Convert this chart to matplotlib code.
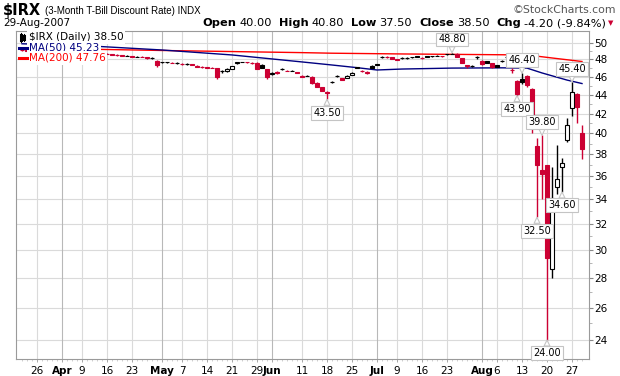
import numpy as np
import pandas as pd
import matplotlib
matplotlib.use("Agg")
import matplotlib.pyplot as plt
from matplotlib.patches import Rectangle
from matplotlib.lines import Line2D
from matplotlib.ticker import FixedLocator, FixedFormatter, NullFormatter

# ---------------- data ----------------
holidays = ["2007-04-06", "2007-05-28", "2007-07-04"]
dates = [d for d in pd.bdate_range("2007-03-21", "2007-08-29") if d.strftime("%Y-%m-%d") not in holidays]

opens = [49.15, 49.10, 49.05, 49.00, 49.05, 49.00, 48.95, 49.00, 48.95, 48.90,
         48.95, 48.90, 48.95, 48.95, 48.95, 48.95, 48.80, 48.70, 48.60, 48.55,
         48.50, 48.45, 48.40, 48.35, 48.35, 48.25, 48.15, 47.85, 47.65, 47.65,
         47.60, 47.55, 47.50, 47.45, 47.45, 47.25, 47.15, 47.10, 47.05, 46.95,
         46.60, 46.60, 46.90, 47.55, 47.70, 47.70, 47.60, 47.60, 47.35, 46.85,
         46.30, 46.55, 46.85, 46.70, 46.70, 46.50, 46.10, 46.10, 46.00, 45.30,
         44.80, 44.30, 45.40, 46.05, 45.80, 45.90, 46.20, 47.05, 46.70, 46.40,
         47.25, 47.45, 48.30, 48.35, 48.25, 48.05, 48.15, 48.20, 48.30, 48.40,
         48.20, 48.40, 48.40, 48.45, 48.40, 48.60, 48.70, 48.70, 48.15, 47.30,
         47.20, 48.25, 47.85, 47.80, 47.55, 47.30, 47.80, 48.30, 46.80, 45.50,
         45.70, 46.10, 44.60, 38.80, 36.50, 37.00, 28.60, 35.00, 36.80, 39.30,
         42.60, 44.10, 40.00]
highs = [49.25, 49.20, 49.15, 49.10, 49.10, 49.10, 49.05, 49.10, 49.05, 49.00,
         49.05, 49.00, 49.05, 49.00, 49.00, 49.00, 48.85, 48.75, 48.65, 48.60,
         48.55, 48.50, 48.45, 48.40, 48.40, 48.30, 48.25, 47.90, 47.70, 47.70,
         47.65, 47.70, 47.55, 47.55, 47.50, 47.30, 47.20, 47.15, 47.10, 47.00,
         46.75, 46.95, 47.25, 47.75, 47.75, 47.75, 47.65, 47.65, 47.45, 46.90,
         46.50, 46.60, 46.95, 46.75, 46.75, 46.55, 46.20, 46.20, 46.05, 45.35,
         44.85, 44.40, 45.50, 46.15, 45.85, 46.15, 46.50, 47.15, 46.75, 46.60,
         47.30, 47.50, 48.40, 48.40, 48.30, 48.10, 48.25, 48.25, 48.35, 48.45,
         48.25, 48.45, 48.45, 48.50, 48.45, 48.65, 48.80, 48.75, 48.20, 47.40,
         47.35, 48.45, 47.90, 47.85, 47.60, 47.35, 47.95, 48.45, 47.00, 45.60,
         46.40, 46.20, 44.70, 39.50, 39.80, 37.00, 36.80, 38.90, 37.60, 41.50,
         45.40, 44.20, 40.80]
lows = [49.05, 49.00, 48.95, 48.95, 48.95, 48.90, 48.90, 48.90, 48.85, 48.85,
        48.85, 48.85, 48.90, 48.90, 48.90, 48.90, 48.65, 48.60, 48.50, 48.45,
        48.40, 48.40, 48.30, 48.30, 48.25, 48.10, 48.10, 47.15, 47.60, 47.60,
        47.55, 47.45, 47.40, 47.40, 47.35, 47.10, 47.05, 47.00, 46.95, 45.70,
        46.45, 46.55, 46.85, 47.50, 47.65, 47.60, 47.50, 46.85, 47.00, 45.70,
        46.25, 46.35, 46.80, 46.60, 46.65, 46.40, 45.95, 46.05, 45.20, 44.80,
        44.40, 43.50, 45.30, 46.00, 45.60, 45.85, 46.15, 47.00, 46.55, 46.35,
        47.00, 47.30, 48.20, 48.20, 48.05, 47.90, 48.10, 48.10, 48.20, 48.30,
        48.10, 48.30, 48.35, 48.40, 48.35, 48.55, 48.60, 48.25, 47.55, 47.05,
        47.10, 48.00, 47.40, 47.55, 47.00, 47.10, 47.70, 48.20, 46.40, 43.90,
        45.20, 44.80, 40.00, 32.50, 34.00, 24.00, 28.00, 34.40, 34.60, 39.10,
        41.70, 41.00, 37.50]
closes = [49.10, 49.05, 49.00, 49.05, 49.00, 48.95, 49.00, 48.95, 48.90, 48.95,
          48.90, 48.95, 48.95, 48.95, 48.95, 48.95, 48.70, 48.65, 48.55, 48.50,
          48.45, 48.45, 48.35, 48.35, 48.30, 48.15, 48.15, 47.30, 47.65, 47.65,
          47.60, 47.60, 47.45, 47.45, 47.40, 47.15, 47.10, 47.05, 47.00, 45.95,
          46.60, 46.90, 47.20, 47.70, 47.72, 47.65, 47.55, 46.90, 47.05, 45.95,
          46.45, 46.40, 46.85, 46.65, 46.70, 46.45, 46.00, 46.10, 45.30, 44.90,
          44.45, 44.20, 45.40, 46.10, 45.65, 46.10, 46.45, 47.10, 46.60, 46.55,
          47.05, 47.35, 48.30, 48.25, 48.10, 47.95, 48.15, 48.15, 48.30, 48.35,
          48.15, 48.35, 48.40, 48.45, 48.40, 48.60, 48.65, 48.30, 47.60, 47.20,
          47.22, 48.30, 47.50, 47.60, 47.10, 47.15, 47.80, 48.35, 46.75, 44.10,
          45.35, 45.10, 41.50, 37.00, 36.20, 29.40, 34.10, 35.70, 37.20, 40.80,
          44.30, 42.70, 38.50]

ma50_idx = [0, 14, 28, 42, 56, 62, 67, 71, 76, 86, 96, 101, 104, 109, 112]
ma50_val = [49.90, 49.62, 49.14, 48.54, 47.71, 47.35, 47.04, 46.77, 46.88, 46.99,
            47.02, 46.99, 46.43, 45.62, 45.23]
ma200_idx = [0, 14, 28, 56, 62, 76, 101, 106, 112]
ma200_val = [49.35, 49.23, 49.08, 48.82, 48.75, 48.66, 48.54, 48.18, 47.76]

label_days = [86, 61, 100, 99, 104, 103, 105, 108, 110]
label_kind = ["high", "low", "high", "low", "high", "low", "low", "low", "high"]

yticks = [24, 26, 28, 30, 32, 34, 36, 38, 40, 42, 44, 46, 48, 50]

# ---------------- figure ----------------
W, H = 620, 376
fig = plt.figure(figsize=(W / 100, H / 100), dpi=100)
L, R, T, B = 16, 589, 31, 359
ax = fig.add_axes([L / W, 1 - B / H, (R - L) / W, (B - T) / H])
ax.set_yscale("log")
ax.set_ylim(22.9, 51.5)
n = len(closes)
ax.set_xlim(-1.2, n + 0.4)

RED = "#cc0033"
GRID = "#dadada"
MONTHGRID = "#b8b8b8"

# y axis
ax.yaxis.set_major_locator(FixedLocator(yticks))
ax.yaxis.set_major_formatter(FixedFormatter([str(v) for v in yticks]))
ax.yaxis.set_minor_locator(FixedLocator([v + 1 for v in yticks[:-1]]))
ax.yaxis.set_minor_formatter(NullFormatter())
ax.yaxis.tick_right()
ax.tick_params(axis="y", which="major", length=3, width=0.8, color="#888888",
               labelsize=7.5, pad=1, labelcolor="black")
ax.tick_params(axis="y", which="minor", length=2, width=0.6, color="#aaaaaa")
for v in yticks:
    ax.axhline(v, color=GRID, lw=0.8, zorder=0)

# x axis ticks
major_pos, major_lab, is_month = [], [], []
month_pos = [i for i in range(1, n) if dates[i].month != dates[i - 1].month]
for i in range(1, n):
    if i in month_pos:
        major_pos.append(i); major_lab.append(dates[i].strftime("%b")); is_month.append(True)
    elif dates[i].weekday() < dates[i - 1].weekday():
        if any(abs(i - m) <= 2 for m in month_pos):
            continue
        major_pos.append(i); major_lab.append(str(dates[i].day)); is_month.append(False)
ax.xaxis.set_major_locator(FixedLocator(major_pos))
ax.xaxis.set_major_formatter(FixedFormatter(major_lab))
ax.xaxis.set_minor_locator(FixedLocator(list(range(n))))
ax.tick_params(axis="x", which="major", length=2, width=0.6, color="#999999",
               labelsize=7.5, pad=3)
ax.tick_params(axis="x", which="minor", length=1.5, width=0.5, color="#bbbbbb")
for lab, m in zip(ax.get_xticklabels(), is_month):
    if m:
        lab.set_fontweight("bold")
for p, m in zip(major_pos, is_month):
    ax.axvline(p, color=MONTHGRID if m else GRID, lw=0.8, zorder=0)

for s in ax.spines.values():
    s.set_color("#9a9a9a"); s.set_linewidth(0.8)

# MA lines
ax.plot(ma200_idx, ma200_val, color="#ff0000", lw=1.0, zorder=2)
ax.plot(ma50_idx, ma50_val, color="#000080", lw=1.0, zorder=2)

# candles
bw = 0.72
for i in range(n):
    o, h, l, c = opens[i], highs[i], lows[i], closes[i]
    prev = closes[i - 1] if i > 0 else o
    col = RED if c < prev else "black"
    ax.vlines(i, l, h, color=col, lw=1.0, zorder=3)
    lo, hi = min(o, c), max(o, c)
    hollow = c > o
    ax.add_patch(Rectangle((i - bw / 2, lo), bw, hi - lo,
                           facecolor="white" if hollow else col,
                           edgecolor=col, lw=0.8, zorder=4))

# value labels
for d, k in zip(label_days, label_kind):
    val = highs[d] if k == "high" else lows[d]
    up = k == "high"
    ax.annotate(f"{val:.2f}", xy=(d, val), xytext=(0, 6 if up else -6),
                textcoords="offset points", ha="center",
                va="bottom" if up else "top", fontsize=7, zorder=10,
                bbox=dict(boxstyle="square,pad=0.2", fc="white", ec="#c4c4c4", lw=0.8),
                arrowprops=dict(arrowstyle="wedge,tail_width=0.6,shrink_factor=0.5",
                                fc="white", ec="#c4c4c4", lw=0.8, shrinkA=0, shrinkB=0))

# legend block (top-left inside axes)
def fx(px):
    return px / W

def fy(py):
    return 1 - py / H

leg = [(f"$IRX (Daily) {closes[-1]:.2f}", "black", 37),
       (f"MA(50) {ma50_val[-1]:.2f}", "#000080", 47.5),
       (f"MA(200) {ma200_val[-1]:.2f}", "#ff0000", 58)]
for txt, col, py in leg:
    fig.text(fx(29), fy(py), txt, color=col, fontsize=7.5, va="center", ha="left",
             zorder=20, bbox=dict(boxstyle="square,pad=0.15", fc="white", ec="none"))
for col, py in [("#000080", 47.5), ("#ff0000", 58)]:
    fig.add_artist(Line2D([fx(19), fx(27)], [fy(py), fy(py)], color=col, lw=2.2, zorder=21))
# small candle icon
for xx, y0, y1, yb0, yb1 in [(20.5, 33, 42, 35, 40), (24.5, 34, 41, 36, 39)]:
    fig.add_artist(Line2D([fx(xx), fx(xx)], [fy(y0), fy(y1)], color="black", lw=0.8, zorder=21))
    fig.add_artist(Line2D([fx(xx), fx(xx)], [fy(yb0), fy(yb1)], color="black", lw=2.2, zorder=21))

# header
fig.text(fx(3), fy(10), "$IRX", fontsize=10.5, fontweight="bold", va="center", ha="left")
fig.text(fx(45), fy(10.5), "(3-Month T-Bill Discount Rate) INDX", fontsize=7.0,
         family="Liberation Sans", va="center", ha="left")
fig.text(fx(616), fy(10), "\u00a9StockCharts.com", fontsize=7.8, color="#555555",
         va="center", ha="right")
fig.text(fx(3), fy(23), dates[-1].strftime("%d-%b-%Y"), fontsize=7.5, va="center", ha="left")

chg = closes[-1] - closes[-2]
pct = chg / closes[-2] * 100
runs = [("Open", "bold"), (f"{opens[-1]:.2f}", "normal"),
        ("High", "bold"), (f"{highs[-1]:.2f}", "normal"),
        ("Low", "bold"), (f"{lows[-1]:.2f}", "normal"),
        ("Close", "bold"), (f"{closes[-1]:.2f}", "normal"),
        ("Chg", "bold"), (f"{chg:.2f} ({pct:.2f}%)", "normal")]
renderer = fig.canvas.get_renderer()
objs, widths = [], []
for s, wgt in runs:
    t = fig.text(0, fy(23), s, fontsize=8.2, fontweight=wgt, va="center", ha="left")
    objs.append(t)
    widths.append(t.get_window_extent(renderer).width)
gaps = [3 if k % 2 == 0 else 7 for k in range(len(runs))]
total = sum(widths) + sum(gaps[:-1])
x = 606 - total
for t, w, g in zip(objs, widths, gaps):
    t.set_x(fx(x))
    x += w + g
fig.text(fx(608), fy(23.5), "\u25bc", fontsize=5, color=RED, va="center", ha="left")

fig.savefig("out.png", dpi=100)
